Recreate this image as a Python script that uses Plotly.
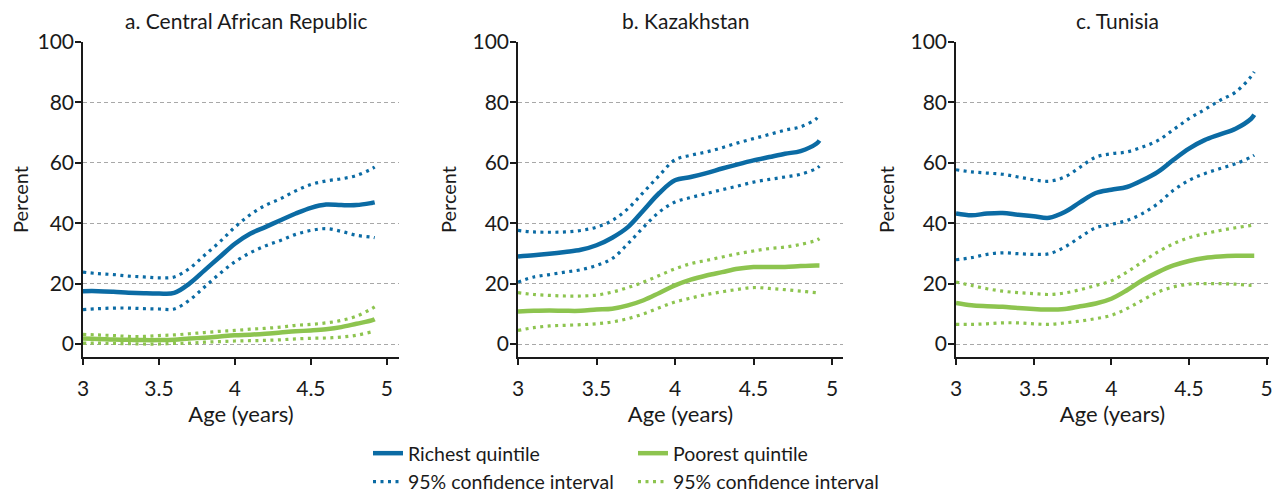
import plotly.graph_objects as go
from plotly.subplots import make_subplots

BLUE = "#0B6BA4"
GREEN = "#8DC44F"

age = [3.0, 3.1, 3.2, 3.3, 3.4, 3.5, 3.6, 3.7, 3.8, 3.9, 4.0,
       4.1, 4.2, 4.3, 4.4, 4.5, 4.6, 4.7, 4.8, 4.9, 4.92]

panel_titles = ["a. Central African Republic", "b. Kazakhstan", "c. Tunisia"]

# a. Central African Republic
car_rich = [17.5, 17.5, 17.3, 17.0, 16.8, 16.7, 16.9, 20.0, 24.4, 28.8, 33.2,
            36.5, 38.7, 41.0, 43.2, 45.1, 46.2, 46.0, 46.0, 46.7, 46.9]
car_rich_hi = [23.8, 23.3, 23.0, 22.5, 22.2, 21.9, 22.2, 25.0, 29.4, 33.8, 38.7,
               42.8, 45.9, 48.1, 50.7, 52.8, 54.0, 54.7, 55.8, 58.0, 58.6]
car_rich_lo = [11.4, 11.7, 11.9, 11.9, 11.7, 11.6, 11.6, 14.5, 18.9, 23.3, 27.2,
               30.2, 32.5, 34.3, 36.3, 37.6, 38.2, 37.3, 36.0, 35.4, 35.2]
car_poor = [1.8, 1.7, 1.5, 1.4, 1.3, 1.3, 1.4, 1.8, 2.1, 2.5, 2.9,
            3.1, 3.4, 3.8, 4.2, 4.5, 4.9, 5.6, 6.7, 7.8, 8.2]
car_poor_hi = [3.2, 3.0, 2.8, 2.5, 2.5, 2.8, 3.0, 3.4, 3.8, 4.2, 4.5,
               4.9, 5.2, 5.6, 6.2, 6.5, 7.0, 7.8, 9.2, 11.7, 12.3]
car_poor_lo = [0.3, 0.3, 0.2, 0.1, 0.0, 0.0, 0.2, 0.3, 0.6, 0.8, 1.0,
               1.1, 1.2, 1.4, 1.7, 1.9, 2.0, 2.3, 2.9, 4.0, 4.2]

# b. Kazakhstan
kaz_rich = [29.0, 29.4, 29.9, 30.5, 31.2, 32.7, 35.2, 38.7, 44.3, 50.0, 54.2,
            55.3, 56.6, 58.1, 59.5, 60.8, 61.9, 63.0, 63.9, 66.3, 67.4]
kaz_rich_hi = [37.6, 37.1, 37.0, 37.1, 37.6, 38.7, 40.9, 44.8, 50.3, 55.8, 61.0,
               62.5, 63.6, 65.0, 66.6, 68.0, 69.4, 70.8, 71.9, 74.6, 76.0]
kaz_rich_lo = [20.5, 22.2, 23.0, 23.8, 24.6, 26.0, 28.3, 33.2, 38.7, 43.7, 47.0,
               48.5, 49.8, 51.1, 52.3, 53.6, 54.5, 55.3, 56.2, 58.1, 58.9]
kaz_poor = [10.8, 11.0, 11.1, 11.0, 11.0, 11.4, 11.7, 12.8, 14.5, 16.9, 19.4,
            21.3, 22.7, 23.8, 24.9, 25.5, 25.5, 25.5, 25.8, 26.0, 26.0]
kaz_poor_hi = [17.0, 16.4, 16.1, 15.9, 15.9, 16.2, 17.2, 18.7, 20.5, 22.7, 24.9,
               26.6, 27.7, 28.8, 29.9, 30.8, 31.6, 32.1, 33.0, 34.3, 34.9]
kaz_poor_lo = [4.5, 5.4, 6.0, 6.2, 6.4, 6.7, 7.3, 8.4, 10.0, 12.0, 13.9,
               15.2, 16.4, 17.3, 18.1, 18.7, 18.4, 18.0, 17.5, 17.0, 16.9]

# c. Tunisia
tun_rich = [43.2, 42.6, 43.2, 43.4, 42.8, 42.3, 41.8, 43.7, 47.0, 50.0, 51.1,
            52.0, 54.2, 57.0, 61.0, 64.7, 67.5, 69.4, 71.3, 74.6, 75.9]
tun_rich_hi = [57.7, 57.0, 56.6, 56.2, 55.3, 54.4, 53.9, 55.3, 58.6, 61.9, 63.0,
               63.6, 65.2, 67.4, 71.0, 74.6, 77.6, 80.7, 83.4, 88.6, 90.1]
tun_rich_lo = [27.9, 28.6, 29.7, 30.2, 29.9, 29.7, 29.9, 32.1, 35.4, 38.5, 39.6,
               40.9, 43.2, 46.5, 50.9, 54.2, 56.4, 58.1, 59.7, 61.9, 62.5]
tun_poor = [13.6, 12.8, 12.5, 12.3, 11.9, 11.6, 11.4, 11.6, 12.5, 13.4, 15.0,
            17.8, 21.1, 23.8, 26.0, 27.5, 28.5, 29.0, 29.2, 29.2, 29.2]
tun_poor_hi = [20.5, 19.4, 18.3, 17.5, 17.0, 16.7, 16.4, 16.9, 18.0, 19.4, 20.9,
               23.8, 27.2, 30.5, 33.2, 35.2, 36.5, 37.6, 38.5, 39.3, 39.6]
tun_poor_lo = [6.5, 6.5, 6.7, 7.0, 7.0, 6.7, 6.5, 7.0, 7.6, 8.4, 9.5,
               11.7, 14.5, 17.2, 18.9, 19.8, 20.0, 20.0, 19.8, 19.4, 19.4]

panels = [
    (car_rich, car_rich_hi, car_rich_lo, car_poor, car_poor_hi, car_poor_lo),
    (kaz_rich, kaz_rich_hi, kaz_rich_lo, kaz_poor, kaz_poor_hi, kaz_poor_lo),
    (tun_rich, tun_rich_hi, tun_rich_lo, tun_poor, tun_poor_hi, tun_poor_lo),
]

FONT = "Lato"
INK = "#1a1a1a"
# the page body keeps its default 8px margin, so the figure is offset by it;
# the figure runs past the bottom of the window so the legend has room
OFF = 8
W, H = 1286 - OFF, 504


def px_x(px):
    return (px - OFF) / W


def px_y(py):
    return 1 - (py - OFF) / H


fig = make_subplots(rows=1, cols=3)

dot = "3px,4.5px"
for i, (rich, rich_hi, rich_lo, poor, poor_hi, poor_lo) in enumerate(panels):
    col = i + 1
    first = i == 0
    # confidence bands first so the solid lines sit on top
    for k, ys in enumerate([rich_hi, rich_lo]):
        fig.add_trace(go.Scatter(
            x=age, y=ys, mode="lines",
            line=dict(color=BLUE, width=3.2, dash=dot, shape="spline"),
            name="95% confidence interval", legend="legend", legendgroup="rich_ci",
            legendrank=2, showlegend=first and k == 0), row=1, col=col)
    for k, ys in enumerate([poor_hi, poor_lo]):
        fig.add_trace(go.Scatter(
            x=age, y=ys, mode="lines",
            line=dict(color=GREEN, width=3.2, dash=dot, shape="spline"),
            name="95% confidence interval", legend="legend2", legendgroup="poor_ci",
            legendrank=2, showlegend=first and k == 0), row=1, col=col)
    fig.add_trace(go.Scatter(
        x=age, y=rich, mode="lines", line=dict(color=BLUE, width=4.5, shape="spline"),
        name="Richest quintile", legend="legend", legendgroup="rich",
        legendrank=1, showlegend=first), row=1, col=col)
    fig.add_trace(go.Scatter(
        x=age, y=poor, mode="lines", line=dict(color=GREEN, width=4.5, shape="spline"),
        name="Poorest quintile", legend="legend2", legendgroup="poor",
        legendrank=1, showlegend=first), row=1, col=col)

x_domains = [(px_x(83), px_x(399)), (px_x(518), px_x(843)), (px_x(956), px_x(1269))]
x_ranges = [[3, 5.08], [3, 5.07], [3, 5.015]]
y_domain = [px_y(357), px_y(42)]

for i in range(3):
    fig.update_xaxes(
        domain=x_domains[i], range=x_ranges[i], automargin=False,
        tickvals=[3, 3.5, 4, 4.5, 5], ticktext=["3", "3.5", "4", "4.5", "5"],
        showline=True, linecolor=INK, linewidth=1.5,
        ticks="outside", ticklen=6, tickcolor=INK, tickwidth=1.5,
        ticklabelstandoff=6,
        showgrid=False, zeroline=False,
        title=dict(text="Age (years)", font=dict(size=22, color=INK), standoff=7),
        tickfont=dict(size=21, color=INK),
        row=1, col=i + 1)
    fig.update_yaxes(
        domain=y_domain, range=[-4.3, 100], automargin=False,
        tickvals=[0, 20, 40, 60, 80, 100],
        showline=True, linecolor=INK, linewidth=1.5,
        ticks="outside", ticklen=6, tickcolor=INK, tickwidth=1.5,
        ticklabelstandoff=-3,
        showgrid=True, gridcolor="#A8A8A8", gridwidth=1, griddash="4px,3px",
        zeroline=False,
        title=dict(text="Percent", font=dict(size=20, color=INK), standoff=11),
        tickfont=dict(size=21, color=INK),
        row=1, col=i + 1)
    fig.add_annotation(
        text=panel_titles[i], xref="paper", yref="paper",
        x=(x_domains[i][0] + x_domains[i][1]) / 2 + 0.004, y=px_y(20),
        xanchor="center", yanchor="middle", showarrow=False,
        font=dict(size=21, color=INK))

legend_style = dict(
    orientation="v", xanchor="left", yanchor="top", y=px_y(434),
    font=dict(size=19.5, color=INK, family=FONT), itemwidth=30,
    bgcolor="rgba(0,0,0,0)", tracegroupgap=4, traceorder="normal")

fig.update_layout(
    template="none",
    width=W, height=H, autosize=False,
    margin=dict(l=0, r=0, t=0, b=0),
    paper_bgcolor="white", plot_bgcolor="white",
    font=dict(family=FONT, size=20, color=INK),
    legend=dict(x=px_x(368), **legend_style),
    legend2=dict(x=px_x(633), **legend_style),
)

fig.write_html("out.html")
